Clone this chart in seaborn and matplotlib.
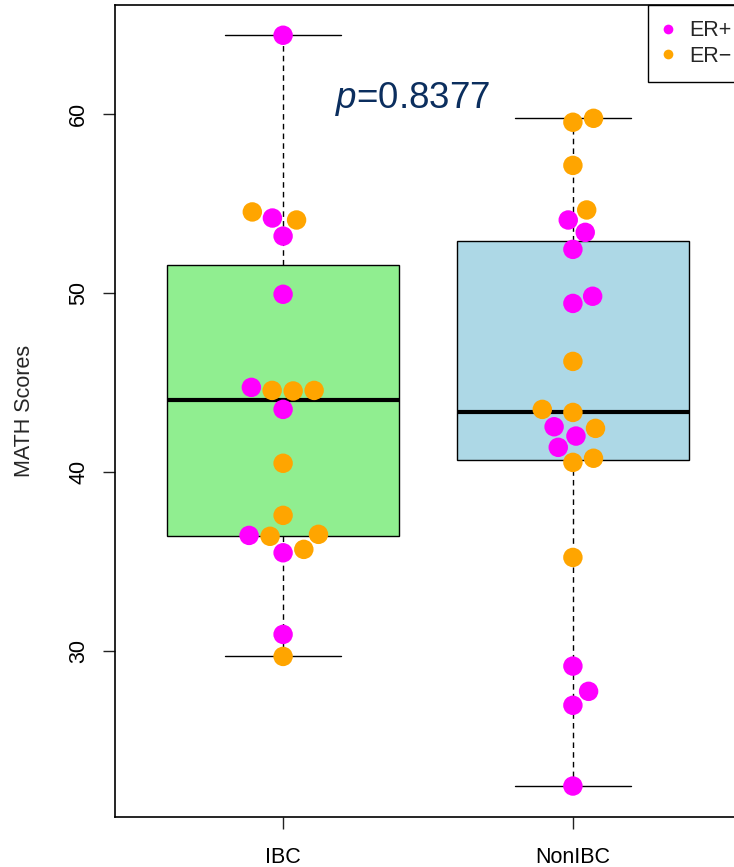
import numpy as np
import pandas as pd
import matplotlib
matplotlib.use("Agg")
import matplotlib.pyplot as plt
from matplotlib.lines import Line2D
import seaborn as sns

# MATH scores by group, with ER status of each sample
ibc_score = [64.40, 54.53, 54.19, 54.08, 53.18, 49.93, 44.73, 44.56, 44.53, 44.56,
             43.50, 40.49, 37.58, 36.46, 36.41, 36.52, 35.49, 35.68, 30.93, 29.70]
ibc_er = ["ER+", "ER−", "ER+", "ER−", "ER+", "ER+", "ER+", "ER−", "ER−", "ER−",
          "ER+", "ER−", "ER−", "ER+", "ER−", "ER−", "ER+", "ER−", "ER+", "ER−"]

nonibc_score = [59.76, 59.54, 57.13, 54.64, 54.08, 53.39, 52.44, 49.82, 49.42, 46.18,
                43.50, 43.33, 42.53, 42.44, 42.01, 41.38, 40.54, 40.77, 35.23, 29.16,
                27.75, 26.97, 22.46]
nonibc_er = ["ER−", "ER−", "ER−", "ER−", "ER+", "ER+", "ER+", "ER+", "ER+", "ER−",
             "ER−", "ER−", "ER+", "ER−", "ER+", "ER+", "ER−", "ER−", "ER−", "ER+",
             "ER+", "ER+", "ER+"]

groups = ["IBC", "NonIBC"]
box_colors = ["#90EE90", "#ADD8E6"]
er_levels = ["ER+", "ER−"]
er_colors = ["#FF00FF", "#FFA500"]
p_label = "0.8377"

df = pd.DataFrame({
    "group": ["IBC"] * len(ibc_score) + ["NonIBC"] * len(nonibc_score),
    "score": ibc_score + nonibc_score,
    "er": ibc_er + nonibc_er,
})

sns.set_theme(style="white")
plt.rcParams["font.family"] = ["Liberation Sans", "DejaVu Sans"]
plt.rcParams["mathtext.fontset"] = "custom"
plt.rcParams["mathtext.it"] = "Liberation Sans:italic"
plt.rcParams["mathtext.rm"] = "Liberation Sans"

FS = 15.5


def tukey_stats(values, label):
    """Five-number summary (Tukey hinges) with 1.5*IQR whiskers."""
    x = np.sort(np.asarray(values, dtype=float))
    n = len(x)
    n4 = np.floor((n + 3) / 2) / 2
    idx = np.array([1, n4, (n + 1) / 2, n + 1 - n4, n]) - 1
    five = 0.5 * (x[np.floor(idx).astype(int)] + x[np.ceil(idx).astype(int)])
    q1, med, q3 = five[1], five[2], five[3]
    iqr = q3 - q1
    lo = x[x >= q1 - 1.5 * iqr].min()
    hi = x[x <= q3 + 1.5 * iqr].max()
    return dict(label=label, q1=q1, med=med, q3=q3, whislo=lo, whishi=hi, fliers=[])


def swarm_offsets(values, d_px, px_per_y):
    """Beeswarm layout: points placed from lowest to highest value, each at the
    non-overlapping horizontal offset closest to the centre (right side on ties).
    Returns offsets in pixels."""
    y = np.asarray(values, dtype=float) * px_per_y
    xs = np.zeros(len(y))
    done = []
    for i in np.argsort(y, kind="stable"):
        yi = y[i]
        px = xs[done]
        py = y[done]
        cands = [0.0]
        near = np.abs(py - yi) < d_px
        if near.any():
            off = np.sqrt(d_px ** 2 - (py[near] - yi) ** 2)
            cands += list(px[near] + off) + list(px[near] - off)
        best = None
        for c in cands:
            if np.all((px - c) ** 2 + (py - yi) ** 2 >= 0.999 * d_px ** 2):
                if best is None or abs(c) < abs(best):
                    best = c
        xs[i] = best
        done.append(i)
    return xs


fig = plt.figure(figsize=(7.34, 8.67), dpi=100)
ax = fig.add_axes([115 / 734, 50 / 867, 626 / 734, 812 / 867])
ax.set_xlim(-0.58, 1.58)
ax.set_ylim(20.73, 66.09)

stats = [tukey_stats(df.loc[df.group == g, "score"], g) for g in groups]
bp = ax.bxp(
    stats, positions=[0, 1], widths=0.8, patch_artist=True, showfliers=False,
    boxprops=dict(edgecolor="black", linewidth=1.0),
    medianprops=dict(color="black", linewidth=3.0, solid_capstyle="butt"),
    whiskerprops=dict(color="black", linewidth=1.0, linestyle=(0, (4, 3))),
    capprops=dict(color="black", linewidth=1.0),
    capwidths=0.4, zorder=1,
)
for patch, c in zip(bp["boxes"], box_colors):
    patch.set_facecolor(c)

# pixel scale of the data axes, used to lay out the swarm
p0, p1 = ax.transData.transform([[0, 0], [1, 1]])
px_per_x = p1[0] - p0[0]
px_per_y = p1[1] - p0[1]
df["xpos"] = 0.0
for gi, g in enumerate(groups):
    m = df.group == g
    off = swarm_offsets(df.loc[m, "score"].values, 21.0, px_per_y)
    df.loc[m, "xpos"] = gi + off / px_per_x

sns.scatterplot(
    data=df, x="xpos", y="score", hue="er", hue_order=er_levels,
    palette=dict(zip(er_levels, er_colors)), s=14 ** 2, linewidth=0,
    legend=False, ax=ax, zorder=3,
)

ax.set_xlim(-0.58, 1.58)
ax.set_ylim(20.73, 66.09)
ax.set_yticks([30, 40, 50, 60])
ax.set_xticks([0, 1])
ax.set_xticklabels(groups)
ax.set_xlabel("")
ax.set_ylabel("MATH Scores", fontsize=FS, labelpad=24)
ax.tick_params(axis="both", which="both", direction="out", length=8.6, width=1,
               color="#222222", labelsize=FS, left=True, bottom=True,
               labelcolor="black")
ax.tick_params(axis="y", pad=10)
ax.tick_params(axis="x", pad=13)
for lbl in ax.get_yticklabels():
    lbl.set_rotation(90)
    lbl.set_va("center")
for sp in ax.spines.values():
    sp.set_color("black")
    sp.set_linewidth(1.2)

ax.text(0.179, 60.32, r"$\it{p}$=" + p_label, fontsize=26.5, color="#0b2e5e",
        ha="left", va="baseline", zorder=4)

handles = [Line2D([], [], marker="o", linestyle="none", markersize=7,
                  markerfacecolor=c, markeredgewidth=0) for c in er_colors]
leg = ax.legend(handles, er_levels, loc="upper right",
                bbox_to_anchor=(1 + 6 / 626, 1),
                bbox_transform=ax.transAxes, borderaxespad=0, frameon=True,
                fancybox=False, framealpha=1, edgecolor="black", fontsize=FS,
                handlelength=0.45, handletextpad=0.75, borderpad=0.72,
                labelspacing=0.2)
leg.get_frame().set_linewidth(1.0)

fig.savefig("out.png", dpi=100)
